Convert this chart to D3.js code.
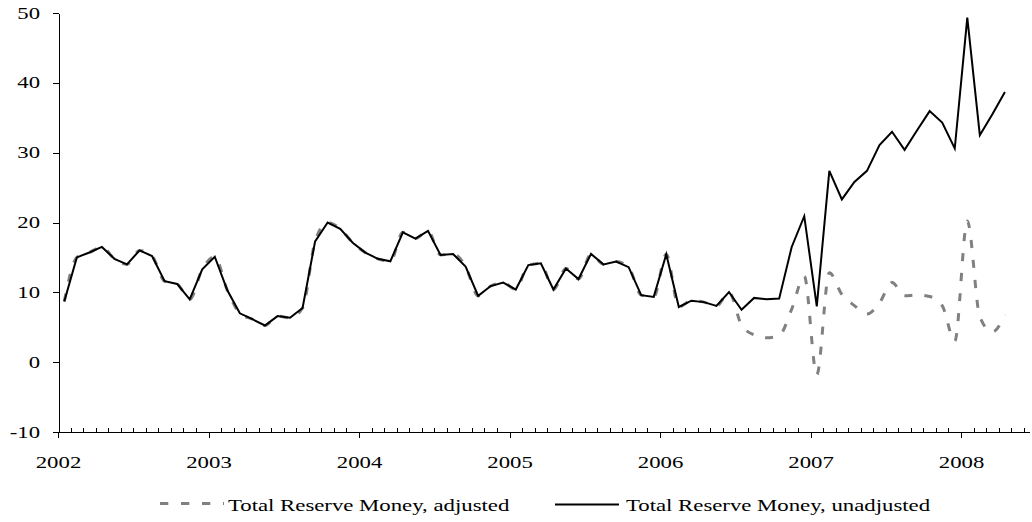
<!DOCTYPE html>
<html><head><meta charset="utf-8">
<script src="https://cdn.jsdelivr.net/npm/d3@7"></script>
<style>html,body{margin:0;padding:0;background:#fff;} svg{display:block;}</style>
</head><body>
<svg id="chart" width="1032" height="522"></svg>
<script>
// ---- data ----
const yearLabels = ["2002","2003","2004","2005","2006","2007","2008"];
const yTicks = [-10, 0, 10, 20, 30, 40, 50];
const seriesNames = ["Total Reserve Money, adjusted", "Total Reserve Money, unadjusted"];
// monthly categories Jan 2002 .. Apr 2008
const categories = [];
yearLabels.forEach(yr => { for (let m = 1; m <= 12; m++) categories.push(yr + "-" + String(m).padStart(2, "0")); });
categories.splice(76);

const unadjusted = [
  8.7, 15.0, 15.7, 16.5, 14.8, 14.0, 16.0, 15.2, 11.6, 11.2, 9.0, 13.3,
  15.1, 10.3, 7.0, 6.15, 5.25, 6.6, 6.35, 7.75, 17.3, 20.0, 19.1, 17.1,
  15.7, 14.8, 14.45, 18.6, 17.7, 18.8, 15.35, 15.5, 13.7, 9.5, 10.9, 11.4,
  10.4, 13.9, 14.15, 10.4, 13.4, 11.9, 15.5, 14.0, 14.4, 13.6, 9.6, 9.35,
  15.45, 7.9, 8.8, 8.6, 8.05, 10.05, 7.5, 9.2, 9.0, 9.1, 16.5, 20.9,
  8.0, 27.4, 23.3, 25.8, 27.4, 31.1, 33.0, 30.4, 33.2, 35.95, 34.3, 30.6,
  49.35, 32.5, 35.5, 38.7
];
const adjusted = [
  8.7, 15.0, 15.7, 16.5, 14.8, 14.0, 16.0, 15.2, 11.6, 11.2, 9.0, 13.3,
  15.1, 10.3, 7.0, 6.15, 5.25, 6.6, 6.35, 7.75, 17.3, 20.0, 19.1, 17.1,
  15.7, 14.8, 14.45, 18.6, 17.7, 18.8, 15.35, 15.5, 13.7, 9.5, 10.9, 11.4,
  10.4, 13.9, 14.15, 10.4, 13.4, 11.9, 15.5, 14.0, 14.4, 13.6, 9.6, 9.35,
  15.45, 7.9, 8.8, 8.6, 8.05, 10.0, 5.3, 3.9, 3.5, 3.8, 7.6, 12.3,
  -1.8, 12.8, 9.7, 8.1, 6.9, 8.5, 11.4, 9.5, 9.6, 9.4, 8.1, 3.0,
  20.2, 6.5, 4.3, 6.8
];

// ---- layout ----
const svg = d3.select("#chart");
const mLeft = 58, mRight = 1030, mTop = 13, mBottom = 432;
const FONT = "'Liberation Serif','Times New Roman',serif";
const SX = 1.34;

const x = d3.scaleLinear().domain([0, 77.5]).range([mLeft, mRight]);
const y = d3.scaleLinear().domain([-10, 50]).range([mBottom, mTop]);

const majorVals = yearLabels.map((d, i) => i * 12);
const minorVals = d3.range(1, 78).filter(d => d % 12 !== 0);

// y axis
const gy = svg.append("g").attr("transform", `translate(${mLeft + 0.5},0)`)
  .call(d3.axisLeft(y).tickValues(yTicks).tickSize(6).tickSizeOuter(0).tickFormat(d => String(d)));
gy.selectAll("path,line").attr("stroke", "#000").attr("shape-rendering", "crispEdges");
gy.selectAll("text").attr("font-family", FONT).attr("font-size", 16).attr("fill", "#000")
  .attr("x", -18.5 / 1.42).attr("transform", "scale(1.42,1)");

// x axis major
const gx = svg.append("g").attr("transform", `translate(0,${mBottom + 0.5})`)
  .call(d3.axisBottom(x).tickValues(majorVals).tickSize(5).tickSizeOuter(0).tickFormat((d, i) => yearLabels[i]));
gx.selectAll("path,line").attr("stroke", "#000").attr("shape-rendering", "crispEdges");
gx.selectAll("text").attr("font-family", FONT).attr("font-size", 17).attr("fill", "#000")
  .attr("y", 35.5).attr("dy", 0).attr("transform", `scale(${SX},1)`);
gx.select(".domain").attr("d", `M${mLeft},0H${mRight}`);

// x axis minor
const gm = svg.append("g").attr("transform", `translate(0,${mBottom + 0.5})`)
  .call(d3.axisTop(x).tickValues(minorVals).tickSize(5).tickFormat(""));
gm.select(".domain").remove();
gm.selectAll("line").attr("stroke", "#000").attr("shape-rendering", "crispEdges");

// lines
const lineAdj = d3.line().x((d, i) => x(i + 0.5)).y(d => y(d)).curve(d3.curveMonotoneX);
const lineUn = d3.line().x((d, i) => x(i + 0.5)).y(d => y(d)).curve(d3.curveLinear);

svg.append("path").datum(adjusted).attr("d", lineAdj)
  .attr("fill", "none").attr("stroke", "#808080").attr("stroke-width", 3)
  .attr("stroke-dasharray", "8,12");
svg.append("path").datum(unadjusted).attr("d", lineUn)
  .attr("fill", "none").attr("stroke", "#000").attr("stroke-width", 2)
  .attr("stroke-linejoin", "miter");

// legend
const leg = svg.append("g");
leg.append("line").attr("x1", 160).attr("x2", 224).attr("y1", 503.5).attr("y2", 503.5)
  .attr("stroke", "#808080").attr("stroke-width", 3).attr("stroke-dasharray", "8.3,12.7");
leg.append("text").attr("x", 228 / SX).attr("y", 511).attr("transform", `scale(${SX},1)`)
  .attr("font-family", FONT).attr("font-size", 17).attr("fill", "#000").text(seriesNames[0]);
leg.append("line").attr("x1", 555).attr("x2", 619).attr("y1", 504.5).attr("y2", 504.5)
  .attr("stroke", "#000").attr("stroke-width", 2);
leg.append("text").attr("x", 626 / SX).attr("y", 511).attr("transform", `scale(${SX},1)`)
  .attr("font-family", FONT).attr("font-size", 17).attr("fill", "#000").text(seriesNames[1]);
</script>
</body></html>
